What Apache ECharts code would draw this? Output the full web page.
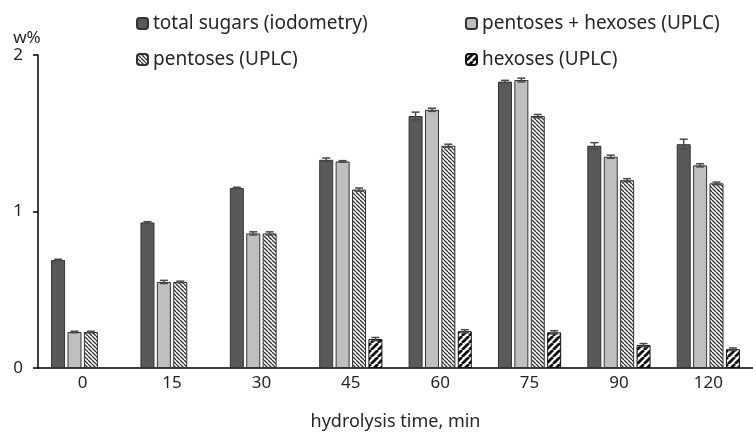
<!DOCTYPE html>
<html>
<head>
<meta charset="utf-8">
<script src="https://cdn.jsdelivr.net/npm/echarts@6/dist/echarts.min.js"></script>
<style>
  html, body { margin: 0; padding: 0; background: #fff; }
  #chart { width: 753px; height: 436px; }
</style>
</head>
<body>
<div id="chart"></div>
<script>
const categories = ['0', '15', '30', '45', '60', '75', '90', '120']
const seriesNames = ['total sugars (iodometry)', 'pentoses + hexoses (UPLC)', 'pentoses (UPLC)', 'hexoses (UPLC)']
const totalSugars = [0.69, 0.93, 1.15, 1.33, 1.61, 1.83, 1.42, 1.43]
const totalSugarsErr = [0.005, 0.005, 0.005, 0.012, 0.025, 0.008, 0.02, 0.032]
const pentHex = [0.23, 0.55, 0.86, 1.32, 1.65, 1.84, 1.35, 1.295]
const pentHexErr = [0.005, 0.01, 0.01, 0.005, 0.01, 0.012, 0.01, 0.01]
const pentoses = [0.23, 0.55, 0.86, 1.14, 1.42, 1.61, 1.20, 1.18]
const pentosesErr = [0.005, 0.005, 0.01, 0.01, 0.01, 0.01, 0.01, 0.008]
const hexoses = ['-', '-', '-', 0.185, 0.235, 0.228, 0.146, 0.12]
const hexosesErr = [0, 0, 0, 0.01, 0.01, 0.01, 0.01, 0.008]
const yTicks = [0, 1, 2]

const FONT = 'Noto Sans'
const BAR_W = 14
const GAP_PX = 2.4

// hatch patterns
const makeHatch = (size, lineW, color, dir) => {
  const c = document.createElement('canvas')
  c.width = size
  c.height = size
  const ctx = c.getContext('2d')
  ctx.fillStyle = '#fff'
  ctx.fillRect(0, 0, size, size)
  ctx.strokeStyle = color
  ctx.lineWidth = lineW
  ctx.beginPath()
  for (let k = -1; k <= 1; k++) {
    if (dir === 'back') {
      ctx.moveTo(k * size, 0)
      ctx.lineTo(k * size + size, size)
    } else {
      ctx.moveTo(k * size, size)
      ctx.lineTo(k * size + size, 0)
    }
  }
  ctx.stroke()
  return c
}

const pentPattern = { image: makeHatch(4, 1.3, '#333', 'back'), repeat: 'repeat' }
const hexPattern = { image: makeHatch(7, 2.8, '#111', 'fwd'), repeat: 'repeat' }

const chart = echarts.init(document.getElementById('chart'))

const errorSeries = (idx, vals, errs) => ({
  type: 'custom',
  silent: true,
  z: 5,
  data: vals.map((v, i) => [i, v === '-' ? null : v, errs[i]]),
  renderItem: (params, api) => {
    const v = api.value(1)
    if (v == null || isNaN(v)) return
    const e = api.value(2)
    const n = 4
    const total = n * BAR_W + (n - 1) * GAP_PX
    const center = api.coord([api.value(0), v])[0]
    const x = center - total / 2 + idx * (BAR_W + GAP_PX) + BAR_W / 2
    const yHi = api.coord([api.value(0), v + e])[1]
    const yLo = api.coord([api.value(0), v - e])[1]
    const st = { stroke: '#4a4a4a', lineWidth: 1.5 }
    return {
      type: 'group',
      children: [
        { type: 'line', shape: { x1: x, y1: yHi, x2: x, y2: yLo }, style: st },
        { type: 'line', shape: { x1: x - 4, y1: yHi, x2: x + 4, y2: yHi }, style: st },
        { type: 'line', shape: { x1: x - 4, y1: yLo, x2: x + 4, y2: yLo }, style: st }
      ]
    }
  }
})

const barBase = {
  type: 'bar',
  barWidth: BAR_W,
  barGap: (GAP_PX / BAR_W * 100) + '%'
}

const legendText = { fontFamily: FONT, fontSize: 19, color: '#262626' }

chart.setOption({
  animation: false,
  backgroundColor: '#fff',
  legend: [
    {
      data: [seriesNames[0], seriesNames[2]],
      orient: 'vertical',
      left: 131,
      top: 9,
      itemGap: 17,
      itemWidth: 11,
      itemHeight: 11,
      textStyle: legendText
    },
    {
      data: [seriesNames[1], seriesNames[3]],
      orient: 'vertical',
      left: 460,
      top: 9,
      itemGap: 17,
      itemWidth: 11,
      itemHeight: 11,
      textStyle: legendText
    }
  ],
  grid: { left: 38, top: 55, width: 728, height: 315, containLabel: false },
  xAxis: {
    type: 'category',
    data: categories,
    name: 'hydrolysis time, min',
    nameLocation: 'middle',
    nameGap: 45,
    nameTextStyle: { fontFamily: FONT, fontSize: 18, color: '#262626' },
    axisLine: { lineStyle: { color: '#000', width: 1.5 } },
    axisTick: { show: false },
    axisLabel: { fontFamily: FONT, fontSize: 17, color: '#262626', margin: 7 }
  },
  yAxis: {
    type: 'value',
    min: yTicks[0],
    max: yTicks[yTicks.length - 1],
    interval: 1,
    name: 'w%',
    nameLocation: 'end',
    nameGap: 5,
    nameTextStyle: { fontFamily: FONT, fontSize: 17, color: '#262626', padding: [0, 22, 0, 0] },
    axisLine: { show: true, lineStyle: { color: '#000', width: 1.5 } },
    axisTick: { show: true, length: 5, lineStyle: { color: '#000', width: 1.5 } },
    axisLabel: { fontFamily: FONT, fontSize: 17, color: '#262626', margin: 15 },
    splitLine: { show: false }
  },
  series: [
    Object.assign({}, barBase, {
      name: seriesNames[0],
      data: totalSugars,
      itemStyle: { color: '#595959', borderColor: '#333', borderWidth: 1 }
    }),
    Object.assign({}, barBase, {
      name: seriesNames[1],
      data: pentHex,
      itemStyle: { color: '#bfbfbf', borderColor: '#333', borderWidth: 1 }
    }),
    Object.assign({}, barBase, {
      name: seriesNames[2],
      data: pentoses,
      itemStyle: { color: pentPattern, borderColor: '#333', borderWidth: 1 }
    }),
    Object.assign({}, barBase, {
      name: seriesNames[3],
      data: hexoses,
      itemStyle: { color: hexPattern, borderColor: '#111', borderWidth: 1 }
    }),
    errorSeries(0, totalSugars, totalSugarsErr),
    errorSeries(1, pentHex, pentHexErr),
    errorSeries(2, pentoses, pentosesErr),
    errorSeries(3, hexoses, hexosesErr)
  ]
})

window.addEventListener('resize', () => chart.resize())
</script>
</body>
</html>
